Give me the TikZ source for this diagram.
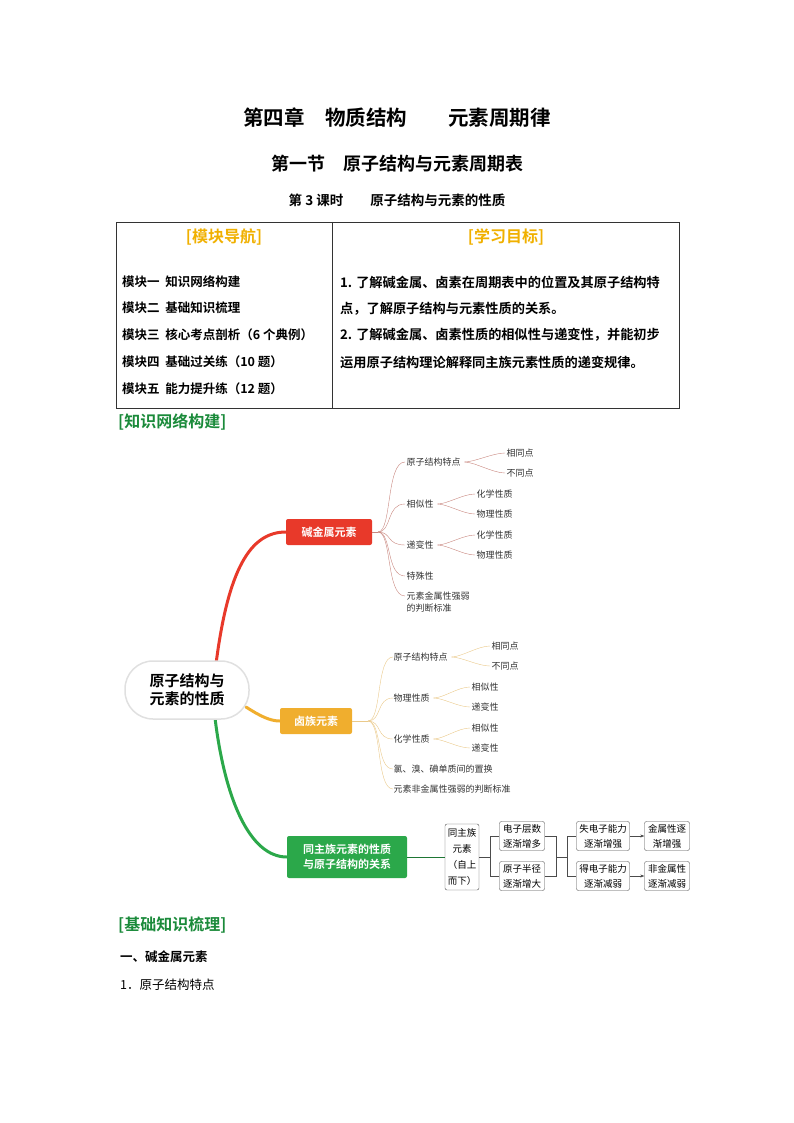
\documentclass[tikz,border=0pt]{standalone}
\usepackage{fontspec}
\setmainfont{Noto Sans CJK SC}[BoldFont={Noto Sans CJK SC Bold}]
\usetikzlibrary{arrows.meta}
\definecolor{hd}{HTML}{F0B000}
\definecolor{gr}{HTML}{1A8A3A}
\definecolor{rd}{HTML}{E8392A}
\definecolor{og}{HTML}{F0AE2E}
\definecolor{gn}{HTML}{2BA84A}
\definecolor{rl}{HTML}{C8867E}
\definecolor{ol}{HTML}{EAC98A}
\begin{document}
\begin{tikzpicture}[x=1pt,y=-1pt,
  leaf/.style={anchor=west,inner sep=1.5pt,font=\fontsize{9}{10}\selectfont,text=black!80},
  tl/.style={anchor=west,font=\bfseries\fontsize{12.5}{13}\selectfont,inner sep=0},
  tr/.style={anchor=west,font=\bfseries\fontsize{13.2}{14}\selectfont,inner sep=0},
  fbox/.style={draw=black!70,rounded corners=2pt,align=center,font=\fontsize{9.5}{15}\selectfont,inner sep=2pt},
  main/.style={rounded corners=2pt,text=white,font=\bfseries\fontsize{11}{14}\selectfont,align=center}]
\useasboundingbox (0,0) rectangle (794,1123);
\node[font=\bfseries\fontsize{20.5}{21}\selectfont] (t1) at (397,118) {第四章\quad 物质结构\qquad 元素周期律};
\node[font=\bfseries\fontsize{18}{19}\selectfont] (t2) at (397,164) {第一节\quad 原子结构与元素周期表};
\node[font=\bfseries\fontsize{13.5}{14}\selectfont] (t3) at (397,200) {第 3 课时\qquad 原子结构与元素的性质};
% table
\draw[black!80] (116,222) rectangle (679,408);
\draw[black!80] (332,222) -- (332,408);
\node[font=\bfseries\fontsize{16}{17}\selectfont,text=hd] (h1) at (224,237) {[模块导航]};
\node[font=\bfseries\fontsize{16}{17}\selectfont,text=hd] (h2) at (506,237) {[学习目标]};
\node[tl] (l1) at (122,282) {模块一\ \ 知识网络构建};
\node[tl] (l2) at (122,308) {模块二\ \ 基础知识梳理};
\node[tl] (l3) at (122,335) {模块三\ \ 核心考点剖析（6 个典例）};
\node[tl] (l4) at (122,362) {模块四\ \ 基础过关练（10 题）};
\node[tl] (l5) at (122,389) {模块五\ \ 能力提升练（12 题）};
\node[tr] (r1) at (340,282) {1. 了解碱金属、卤素在周期表中的位置及其原子结构特};
\node[tr] (r2) at (340,309) {点，了解原子结构与元素性质的关系。};
\node[tr] (r3) at (340,335) {2. 了解碱金属、卤素性质的相似性与递变性，并能初步};
\node[tr] (r4) at (340,362) {运用原子结构理论解释同主族元素性质的递变规律。};
\node[anchor=west,font=\bfseries\fontsize{16}{17}\selectfont,text=gr,inner sep=0] (s1) at (118,422) {[知识网络构建]};
% central
\node[main,fill=rd,minimum width=86pt,minimum height=26pt] (A) at (329,532) {碱金属元素};
\node[main,fill=og,minimum width=72pt,minimum height=26pt] (B) at (316,721) {卤族元素};
\node[main,fill=gn,minimum width=120pt,minimum height=42pt,font=\bfseries\fontsize{11}{15}\selectfont] (C) at (347,857) {同主族元素的性质\\与原子结构的关系};
\draw[rd,line width=3pt,line cap=round] (216,664) .. controls (228,570) and (250,532) .. (A.west);
\draw[og,line width=3pt,line cap=round] (246,707) .. controls (260,716) and (270,721) .. (B.west);
\draw[gn,line width=3pt,line cap=round] (215,718) .. controls (225,800) and (250,857) .. (C.west);
\node[draw=black!12,line width=1.5pt,fill=white,rounded corners=28pt,minimum width=124pt,minimum height=58pt,align=center,font=\bfseries\fontsize{15}{18}\selectfont] (c) at (187,690) {原子结构与\\元素的性质};
% red children
\coordinate (ap) at (378,532);
\draw[rl,thin] (A.east) -- (ap);
\node[leaf] (a1) at (405,462) {原子结构特点};
\node[leaf] (a2) at (405,504) {相似性};
\node[leaf] (a3) at (405,545) {递变性};
\node[leaf] (a4) at (405,576) {特殊性};
\node[leaf,align=left,font=\fontsize{9}{12}\selectfont] (a5) at (405,602) {元素金属性强弱\\的判断标准};
\foreach \y in {462,504,545,576,596}
  \draw[rl,thin] (ap) .. controls (392,532) and (386,\y) .. (405,\y);
\node[leaf] (a11) at (505,453) {相同点};
\node[leaf] (a12) at (505,473) {不同点};
\node[leaf] (a21) at (475,494) {化学性质};
\node[leaf] (a22) at (475,514) {物理性质};
\node[leaf] (a31) at (475,535) {化学性质};
\node[leaf] (a32) at (475,555) {物理性质};
\foreach \p/\q in {a1/a11,a1/a12,a2/a21,a2/a22,a3/a31,a3/a32}
  \draw[rl,thin] ([xshift=2pt]\p.east) .. controls +(10,0) and +(-12,0) .. (\q.west);
% orange children
\coordinate (bp) at (368,721);
\draw[ol,thin] (B.east) -- (bp);
\node[leaf] (b1) at (392,657) {原子结构特点};
\node[leaf] (b2) at (392,698) {物理性质};
\node[leaf] (b3) at (392,739) {化学性质};
\node[leaf] (b4) at (392,769) {氯、溴、碘单质间的置换};
\node[leaf] (b5) at (392,789) {元素非金属性强弱的判断标准};
\foreach \y in {657,698,739,769,789}
  \draw[ol,thin] (bp) .. controls (382,721) and (376,\y) .. (393,\y);
\node[leaf] (b11) at (490,646) {相同点};
\node[leaf] (b12) at (490,666) {不同点};
\node[leaf] (b21) at (470,687) {相似性};
\node[leaf] (b22) at (470,707) {递变性};
\node[leaf] (b31) at (470,728) {相似性};
\node[leaf] (b32) at (470,748) {递变性};
\foreach \p/\q in {b1/b11,b1/b12,b2/b21,b2/b22,b3/b31,b3/b32}
  \draw[ol,thin] ([xshift=2pt]\p.east) .. controls +(10,0) and +(-12,0) .. (\q.west);
% flow
\node[fbox,minimum width=34pt,minimum height=66pt,font=\fontsize{9.5}{16}\selectfont] (f0) at (462,857) {同主族\\元素\\（自上\\而下）};
\draw[gn!70!black,thin] (C.east) -- (f0.west);
\node[fbox,minimum width=45pt,minimum height=29pt] (f1) at (522,836) {电子层数\\逐渐增多};
\node[fbox,minimum width=45pt,minimum height=29pt] (f2) at (522,876) {原子半径\\逐渐增大};
\node[fbox,minimum width=53pt,minimum height=29pt] (f3) at (603,836) {失电子能力\\逐渐增强};
\node[fbox,minimum width=53pt,minimum height=29pt] (f4) at (603,876) {得电子能力\\逐渐减弱};
\node[fbox,minimum width=45pt,minimum height=29pt] (f5) at (667,836) {金属性逐\\渐增强};
\node[fbox,minimum width=45pt,minimum height=29pt] (f6) at (667,876) {非金属性\\逐渐减弱};
\coordinate (j1) at (490,857);
\coordinate (j2) at (556,857);
\coordinate (j3) at (567,857);
\draw[black!70,thin] (f0.east) -- (j1) (j1|-f1) -- (j1|-f2) (j1|-f1) -- (f1.west) (j1|-f2) -- (f2.west);
\draw[black!70,thin] (f1.east) -| (j2) (f2.east) -| (j2) -- (j3) (j3|-f3) -- (j3|-f4) (j3|-f3) -- (f3.west) (j3|-f4) -- (f4.west);
\draw[black!70,thin,-{Stealth[length=4pt,width=3pt]}] (f3) -- (f5);
\draw[black!70,thin,-{Stealth[length=4pt,width=3pt]}] (f4) -- (f6);
\node[anchor=west,font=\bfseries\fontsize{16}{17}\selectfont,text=gr,inner sep=0] (s2) at (118,925) {[基础知识梳理]};
\node[anchor=west,font=\bfseries\fontsize{12.5}{13}\selectfont,inner sep=0] (s3) at (120,957) {一、碱金属元素};
\node[anchor=west,font=\fontsize{12.5}{13}\selectfont,inner sep=0] (s4) at (120,985) {1．原子结构特点};
\end{tikzpicture}
\end{document}
